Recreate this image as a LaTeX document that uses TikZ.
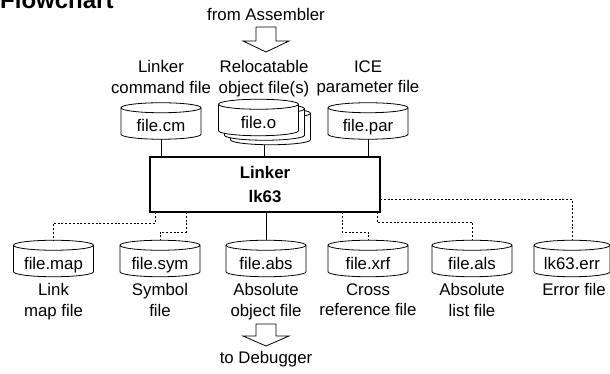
\documentclass[tikz,border=0pt]{standalone}
\usepackage{fontspec}
\setmainfont{Liberation Sans}
\usetikzlibrary{backgrounds}
\tikzset{
  x=1pt, y=1pt,
  txt/.style={font=\fontsize{16.8}{20.5}\selectfont, inner sep=0pt, align=center},
  cylbox/.style={txt, minimum width=80pt, minimum height=36.5pt, text height=22pt, text depth=0pt, outer sep=0pt},
  cylline/.style={draw=black, line width=0.8pt, fill=white},
  linkerbox/.style={draw=black, line width=2pt, minimum width=230pt, minimum height=55pt, inner sep=0pt, outer sep=0pt, align=center, font=\fontsize{16.8}{24}\selectfont\bfseries},
  solidline/.style={draw=black, line width=0.8pt},
  dashline/.style={draw=black, line width=0.9pt, dash pattern=on 2pt off 1.8pt},
  blockarrow/.style={draw=black, line width=0.8pt, fill=white, line join=miter},
}
\newcommand\cylout[2]{%
  \draw[cylline] ([yshift=-5pt]#1.north west) -- ([yshift=5pt]#1.south west)
    arc[start angle=180, end angle=360, x radius=#2, y radius=5pt]
    -- ([yshift=-5pt]#1.north east)
    arc[start angle=0, end angle=180, x radius=#2, y radius=5pt] -- cycle;
  \draw[cylline, fill=none] ([yshift=-5pt]#1.north west)
    arc[start angle=180, end angle=360, x radius=#2, y radius=5pt];}
\begin{document}
\begin{tikzpicture}
\useasboundingbox (0,0) rectangle (610,374);
% title
\node[anchor=base west, inner sep=0pt, font=\fontsize{24}{28}\selectfont\bfseries] (title) at (0,365) {Flowchart};
% top arrow and text
\node[txt, anchor=base] (from) at (266,353) {from Assembler};
\draw[blockarrow] (256,347) -- (276,347) -- (276,333) -- (289,333) -- (266,322) -- (243,333) -- (256,333) -- cycle;
% top labels
\node[txt, anchor=north] (lcm) at (161,313.8) {Linker\\command file};
\node[txt, anchor=north] (lo) at (264,313.8) {Relocatable\\object file(s)};
\node[txt, anchor=north] (lpar) at (368,313.8) {ICE\\parameter file};
% top files
\node[cylbox] (cm) at (161,253) {file.cm};
\node[cylbox] (o3) at (270.5,247.5) {};
\node[cylbox] (o2) at (264.5,252) {};
\node[cylbox] (o) at (258.5,256.5) {file.o};
\node[cylbox] (par) at (368,253) {file.par};
% linker
\node[linkerbox] (linker) at (265,189.5) {Linker\\lk63};
% bottom files
\node[cylbox] (map) at (53.5,115.5) {file.map};
\node[cylbox] (sym) at (160,115.5) {file.sym};
\node[cylbox] (abs) at (266,115.5) {file.abs};
\node[cylbox] (xrf) at (368,115.5) {file.xrf};
\node[cylbox] (als) at (472,115.5) {file.als};
\node[cylbox, minimum width=76pt] (err) at (572,115.5) {lk63.err};
% bottom labels
\node[txt, anchor=north] (lmap) at (53.5,90.8) {Link\\map file};
\node[txt, anchor=north] (lsym) at (160,90.8) {Symbol\\file};
\node[txt, anchor=north] (labs) at (266,90.8) {Absolute\\object file};
\node[txt, anchor=north] (lxrf) at (368,90.8) {Cross\\reference file};
\node[txt, anchor=north] (lals) at (472,90.8) {Absolute\\list file};
\node[txt, anchor=north] (lerr) at (574,90.8) {Error file};
% bottom arrow and text
\draw[blockarrow] (256,50) -- (276,50) -- (276,38) -- (289,38) -- (266,28) -- (243,38) -- (256,38) -- cycle;
\node[txt, anchor=base] (to) at (266,10) {to Debugger};
% cylinder outlines
\begin{pgfonlayer}{background}
  \cylout{cm}{40pt}
  \cylout{o3}{40pt}
  \cylout{o2}{40pt}
  \cylout{o}{40pt}
  \cylout{par}{40pt}
  \cylout{map}{40pt}
  \cylout{sym}{40pt}
  \cylout{abs}{40pt}
  \cylout{xrf}{40pt}
  \cylout{als}{40pt}
  \cylout{err}{38pt}
\end{pgfonlayer}
% connectors into linker
\draw[solidline] (cm.south) -- (cm.south |- linker.north);
\draw[solidline] (o3.south -| o2.south) -- (o2.south |- linker.north);
\draw[solidline] (par.south) -- (par.south |- linker.north);
% connectors out of linker
\draw[dashline] ([xshift=5pt]linker.south west) -- ++(0,-11) -| (map.north);
\draw[dashline] ([xshift=36pt]linker.south west) -- ++(0,-20) -| (sym.north);
\draw[solidline] (linker.south -| abs.north) -- (abs.north);
\draw[dashline] ([xshift=-38pt]linker.south east) -- ++(0,-20) -| (xrf.north);
\draw[dashline] ([xshift=-3pt]linker.south east) -- ++(0,-10) -| (als.north);
\draw[dashline] ([yshift=-14.5pt]linker.east) -| (err.north);
\end{tikzpicture}
\end{document}
